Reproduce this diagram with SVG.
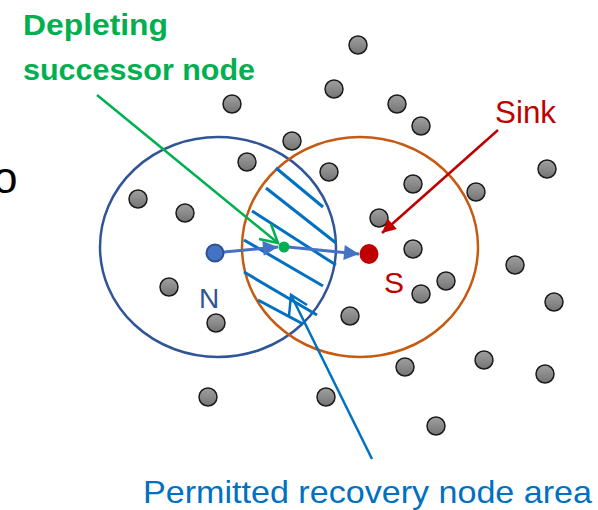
<svg xmlns="http://www.w3.org/2000/svg" width="598" height="510" viewBox="0 0 598 510">
<style>
.g{fill:url(#gg);stroke:#1a1a1a;stroke-width:1.5}
.hatch line{stroke:#0070C0;stroke-width:3;stroke-linecap:butt}
.lbl{font-family:"Liberation Sans",Arial,sans-serif}
</style>
<defs>
<linearGradient id="gg" x1="0" y1="0" x2="0" y2="1">
<stop offset="0" stop-color="#a0a0a0"/>
<stop offset="1" stop-color="#747474"/>
</linearGradient>
<marker id="ab" viewBox="0 0 10 10" refX="10" refY="5" markerWidth="5.5" markerHeight="5" orient="auto" markerUnits="strokeWidth">
<path d="M0,0 L10,5 L0,10 z" fill="#4472C4"/>
</marker>
<marker id="ar" viewBox="0 0 10 10" refX="10" refY="5" markerWidth="6" markerHeight="5.5" orient="auto" markerUnits="strokeWidth">
<path d="M0,0 L10,5 L0,10 z" fill="#C00000"/>
</marker>
</defs>

<text class="lbl" x="-7" y="193" font-size="44" fill="#000">o</text>

<g id="ranges">
<ellipse cx="218" cy="247" rx="118" ry="110" fill="none" stroke="#2F5597" stroke-width="2.5"/>
<ellipse cx="360" cy="247" rx="118" ry="110" fill="none" stroke="#C55A11" stroke-width="2.5"/>
</g>

<g class="hatch" id="hatch">
<line x1="276" y1="168" x2="323" y2="207"/>
<line x1="266" y1="188" x2="336" y2="243"/>
<line x1="252" y1="211" x2="336" y2="265"/>
<line x1="244" y1="240" x2="323" y2="286"/>
<line x1="244" y1="272" x2="317" y2="315"/>
<line x1="258" y1="300" x2="303" y2="324"/>
</g>

<g id="nodes">
<circle class="g" cx="358" cy="45" r="9"/>
<circle class="g" cx="232" cy="104" r="9"/>
<circle class="g" cx="334" cy="89" r="9"/>
<circle class="g" cx="397" cy="104" r="9"/>
<circle class="g" cx="421" cy="126" r="9"/>
<circle class="g" cx="292" cy="141" r="9"/>
<circle class="g" cx="247" cy="162" r="9"/>
<circle class="g" cx="329" cy="172" r="9"/>
<circle class="g" cx="413" cy="184" r="9"/>
<circle class="g" cx="476" cy="192" r="9"/>
<circle class="g" cx="547" cy="169" r="9"/>
<circle class="g" cx="138" cy="199" r="9"/>
<circle class="g" cx="185" cy="213" r="9"/>
<circle class="g" cx="379" cy="218" r="9"/>
<circle class="g" cx="413" cy="249" r="9"/>
<circle class="g" cx="515" cy="265" r="9"/>
<circle class="g" cx="446" cy="281" r="9"/>
<circle class="g" cx="421" cy="294" r="9"/>
<circle class="g" cx="169" cy="287" r="9"/>
<circle class="g" cx="554" cy="302" r="9"/>
<circle class="g" cx="350" cy="316" r="9"/>
<circle class="g" cx="216" cy="323" r="9"/>
<circle class="g" cx="405" cy="367" r="9"/>
<circle class="g" cx="484" cy="360" r="9"/>
<circle class="g" cx="545" cy="374" r="9"/>
<circle class="g" cx="208" cy="397" r="9"/>
<circle class="g" cx="326" cy="397" r="9"/>
<circle class="g" cx="436" cy="426" r="9"/>
</g>

<g id="connectors" fill="none">
<line x1="224" y1="252" x2="278" y2="247" stroke="#4472C4" stroke-width="3" marker-end="url(#ab)"/>
<line x1="288" y1="247" x2="359" y2="254" stroke="#4472C4" stroke-width="3" marker-end="url(#ab)"/>
<polyline points="97,95 278,243" stroke="#00B050" stroke-width="2.5"/>
<polyline points="259,239 278,243 271,224" stroke="#00B050" stroke-width="2.5"/>
<line x1="498" y1="130" x2="382" y2="233" stroke="#C00000" stroke-width="2.5" marker-end="url(#ar)"/>
<line x1="372" y1="459" x2="291" y2="295" stroke="#0070C0" stroke-width="2.5"/>
<polyline points="289,316 291,295 307,305" stroke="#0070C0" stroke-width="2.5"/>
</g>

<g id="N">
<circle cx="215" cy="253" r="8.5" fill="#4472C4" stroke="#2F528F" stroke-width="2"/>
<text class="lbl" x="199" y="308" font-size="28" fill="#2F5597">N</text>
</g>
<g id="succ">
<circle cx="284" cy="247" r="5.5" fill="#00B050"/>
</g>
<g id="S">
<ellipse cx="369" cy="254" rx="9.5" ry="10" fill="#C00000"/>
<text class="lbl" x="384" y="293" font-size="30" fill="#C00000">S</text>
</g>

<g id="labels">
<text class="lbl" x="23" y="35" font-size="30" font-weight="bold" fill="#00B050" textLength="145" lengthAdjust="spacingAndGlyphs">Depleting</text>
<text class="lbl" x="23" y="80" font-size="30" font-weight="bold" fill="#00B050" textLength="232" lengthAdjust="spacingAndGlyphs">successor node</text>
<text class="lbl" x="495" y="123" font-size="32" fill="#C00000" textLength="61" lengthAdjust="spacingAndGlyphs">Sink</text>
<text class="lbl" x="143" y="503" font-size="32" fill="#0070C0" textLength="449" lengthAdjust="spacingAndGlyphs">Permitted recovery node area</text>
</g>
</svg>
